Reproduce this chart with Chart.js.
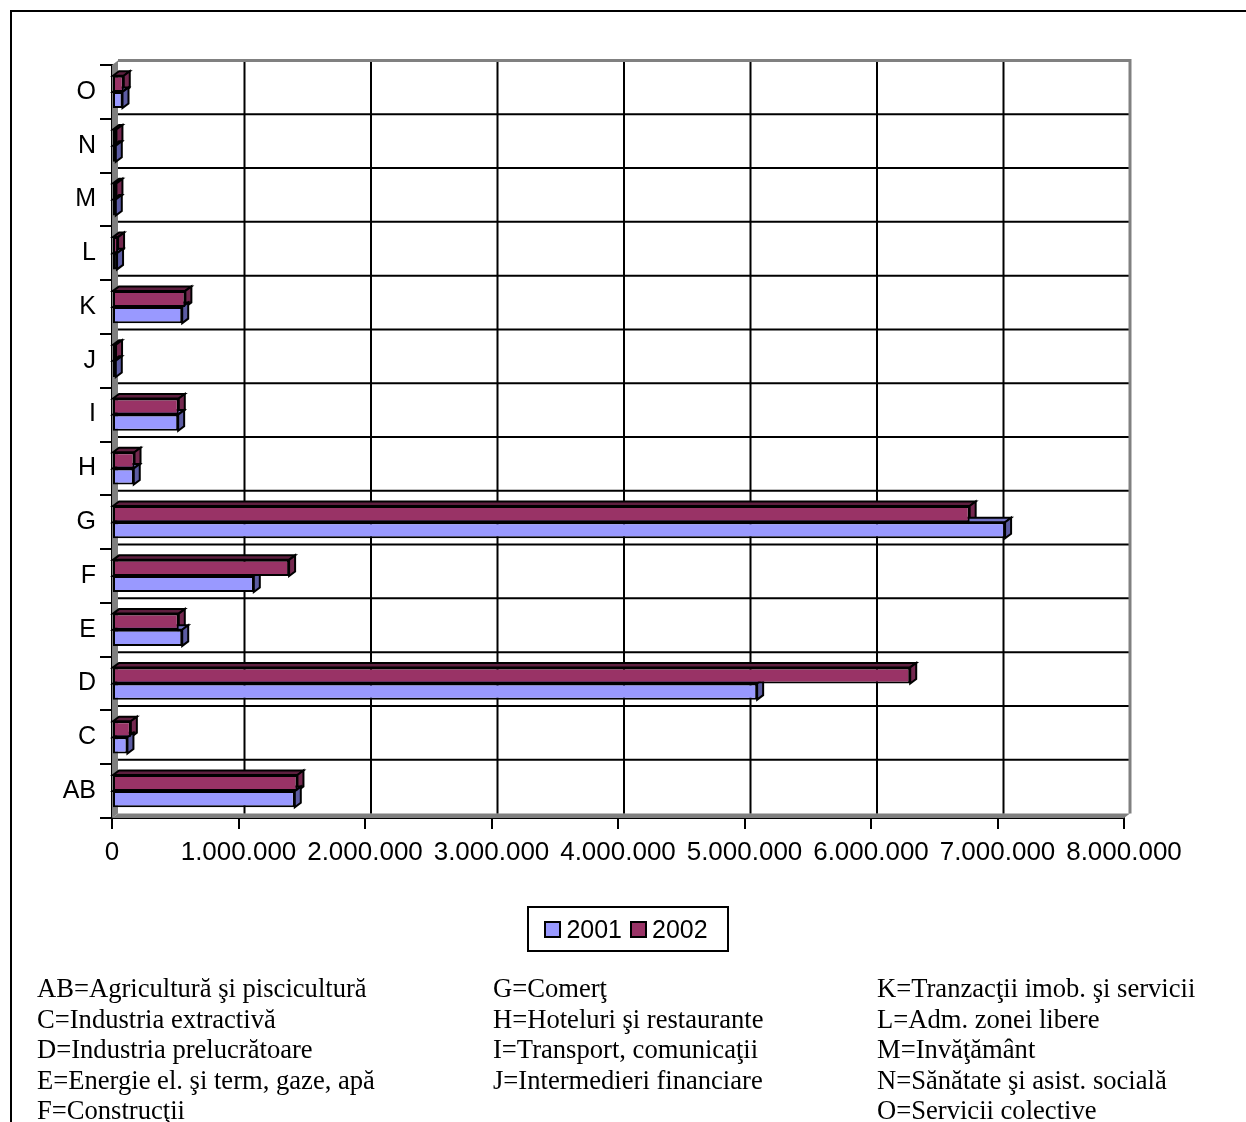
<!DOCTYPE html>
<html>
<head>
<meta charset="utf-8">
<title>Chart</title>
<script src="https://cdn.jsdelivr.net/npm/chart.js@4.4.0/dist/chart.umd.min.js"></script>
<style>
  body { margin: 0; width: 1246px; height: 1122px; position: relative; overflow: hidden; background: #fff; }
  #frame { position: absolute; left: 10px; top: 10px; right: 0; bottom: 0; border-top: 2px solid #000; border-left: 2px solid #000; }
  #chart { position: absolute; left: 0; top: 0; }
  #legend {
    position: absolute; left: 527px; top: 906px; width: 198px; height: 42px;
    border: 2px solid #000; display: flex; align-items: center; justify-content: center;
    font-family: "Liberation Sans", Arial, sans-serif; font-size: 25px; color: #000;
  }
  #legend .item { display: flex; align-items: center; margin: 0 6px 0 2px; }
  #legend .box { width: 13px; height: 13px; border: 2px solid #000; margin-right: 5px; }
  .notes {
    position: absolute; top: 973px; font-family: "Liberation Serif", "Times New Roman", serif;
    font-size: 26.6px; line-height: 30.5px; white-space: nowrap; color: #000;
  }
</style>
</head>
<body>
<div id="frame"></div>
<canvas id="chart" width="1246" height="1122"></canvas>
<div id="legend"></div>
<div class="notes" id="notes1" style="left:37px"></div>
<div class="notes" id="notes2" style="left:493px"></div>
<div class="notes" id="notes3" style="left:877px"></div>
<script>
// categorii (de jos in sus) si valorile pe ani
const categories = ['AB', 'C', 'D', 'E', 'F', 'G', 'H', 'I', 'J', 'K', 'L', 'M', 'N', 'O'];
const values2001 = [1445000, 122000, 5100000, 555000, 1121000, 7060000, 172000, 523000, 30000, 555000, 40000, 30000, 30000, 83000];
const values2002 = [1466000, 149000, 6310000, 528000, 1400000, 6780000, 178000, 528000, 32000, 580000, 48000, 35000, 35000, 93000];
const xTickLabels = ['0', '1.000.000', '2.000.000', '3.000.000', '4.000.000', '5.000.000', '6.000.000', '7.000.000', '8.000.000'];

const notesCol1 = ['AB=Agricultură şi piscicultură', 'C=Industria extractivă', 'D=Industria prelucrătoare', 'E=Energie el. şi term, gaze, apă', 'F=Construcţii'];
const notesCol2 = ['G=Comerţ', 'H=Hoteluri şi restaurante', 'I=Transport, comunicaţii', 'J=Intermedieri financiare'];
const notesCol3 = ['K=Tranzacţii imob. şi servicii', 'L=Adm. zonei libere', 'M=Invăţământ', 'N=Sănătate şi asist. socială', 'O=Servicii colective'];

const series = [
  { label: '2001', data: values2001, color: '#9999FF', topColor: '#7373c4', sideColor: '#5c5ca3' },
  { label: '2002', data: values2002, color: '#993366', topColor: '#5e1f3f', sideColor: '#74284f' }
];

const depth = { dx: 6, dy: 4.5 };

// pseudo 3D: pereti, grila din spate si fetele laterale ale barelor
const threeDPlugin = {
  id: 'threeD',
  beforeDatasetsDraw(chart) {
    const { ctx, chartArea: a, scales: { x, y } } = chart;
    const { dx, dy } = depth;
    ctx.save();

    ctx.fillStyle = '#808080';
    ctx.beginPath();
    ctx.moveTo(a.left, a.bottom);
    ctx.lineTo(a.left, a.top);
    ctx.lineTo(a.left + dx, a.top - dy);
    ctx.lineTo(a.left + dx, a.bottom - dy);
    ctx.closePath();
    ctx.fill();
    ctx.beginPath();
    ctx.moveTo(a.left, a.bottom);
    ctx.lineTo(a.right, a.bottom);
    ctx.lineTo(a.right + dx, a.bottom - dy);
    ctx.lineTo(a.left + dx, a.bottom - dy);
    ctx.closePath();
    ctx.fill();

    ctx.strokeStyle = '#000';
    ctx.lineWidth = 2;
    x.ticks.forEach(t => {
      if (t.value <= x.min || t.value >= x.max) return;
      const px = x.getPixelForValue(t.value) + dx;
      ctx.beginPath();
      ctx.moveTo(px, a.top - dy);
      ctx.lineTo(px, a.bottom - dy);
      ctx.stroke();
    });
    for (let i = 1; i < categories.length; i++) {
      const py = y.getPixelForValue(i - 0.5) - dy;
      ctx.beginPath();
      ctx.moveTo(a.left + dx, py);
      ctx.lineTo(a.right + dx, py);
      ctx.stroke();
    }

    ctx.strokeStyle = '#808080';
    ctx.lineWidth = 3;
    ctx.beginPath();
    ctx.moveTo(a.left + dx, a.top - dy);
    ctx.lineTo(a.right + dx, a.top - dy);
    ctx.lineTo(a.right + dx, a.bottom - dy);
    ctx.stroke();

    ctx.lineWidth = 2;
    ctx.strokeStyle = '#000';
    ctx.lineJoin = 'miter';
    chart.data.datasets.forEach((ds, di) => {
      const meta = chart.getDatasetMeta(di);
      meta.data.forEach(bar => {
        const p = bar.getProps(['x', 'y', 'base', 'height'], true);
        const top = p.y - p.height / 2;
        const bottom = p.y + p.height / 2;
        ctx.fillStyle = ds.topColor;
        ctx.beginPath();
        ctx.moveTo(p.base, top);
        ctx.lineTo(p.base + dx, top - dy);
        ctx.lineTo(p.x + dx, top - dy);
        ctx.lineTo(p.x, top);
        ctx.closePath();
        ctx.fill();
        ctx.stroke();
        ctx.fillStyle = ds.sideColor;
        ctx.beginPath();
        ctx.moveTo(p.x, top);
        ctx.lineTo(p.x + dx, top - dy);
        ctx.lineTo(p.x + dx, bottom - dy);
        ctx.lineTo(p.x, bottom);
        ctx.closePath();
        ctx.fill();
        ctx.stroke();
      });
    });
    ctx.restore();
  }
};

const labelFont = { family: '"Liberation Sans", Arial, sans-serif', size: 25 };

// 2002 primul ca sa ajunga deasupra lui 2001 in fiecare grup
const datasets = [series[1], series[0]].map(s => ({
  label: s.label,
  data: s.data,
  backgroundColor: s.color,
  borderColor: '#000',
  borderWidth: 2,
  borderSkipped: false,
  categoryPercentage: 0.6,
  barPercentage: 1,
  topColor: s.topColor,
  sideColor: s.sideColor
}));

new Chart(document.getElementById('chart'), {
  type: 'bar',
  data: { labels: categories, datasets },
  options: {
    indexAxis: 'y',
    responsive: false,
    animation: false,
    layout: { padding: { left: 0, top: 65, right: 122, bottom: 244 } },
    plugins: { legend: { display: false }, tooltip: { enabled: false } },
    scales: {
      x: {
        min: 0,
        max: 8000000,
        ticks: {
          stepSize: 1000000,
          autoSkip: false,
          maxRotation: 0,
          color: '#000',
          font: { family: labelFont.family, size: 26 },
          padding: 8,
          callback: (v, i) => xTickLabels[i]
        },
        grid: { drawOnChartArea: false, color: '#000', lineWidth: 2, tickLength: 11 },
        border: { color: '#000', width: 2 },
        afterFit: s => { s.height = 60; }
      },
      y: {
        reverse: true,
        ticks: { color: '#000', font: labelFont, padding: 4 },
        grid: { drawOnChartArea: false, color: '#000', lineWidth: 2, tickLength: 12 },
        border: { color: '#000', width: 2 },
        afterFit: s => { s.width = 112; }
      }
    }
  },
  plugins: [threeDPlugin]
});

document.getElementById('legend').innerHTML = series.map(s => `
  <div class="item"><div class="box" style="background:${s.color}"></div><span>${s.label}</span></div>
`).join('');

document.getElementById('notes1').innerHTML = notesCol1.join('<br>');
document.getElementById('notes2').innerHTML = notesCol2.join('<br>');
document.getElementById('notes3').innerHTML = notesCol3.join('<br>');
</script>
</body>
</html>
